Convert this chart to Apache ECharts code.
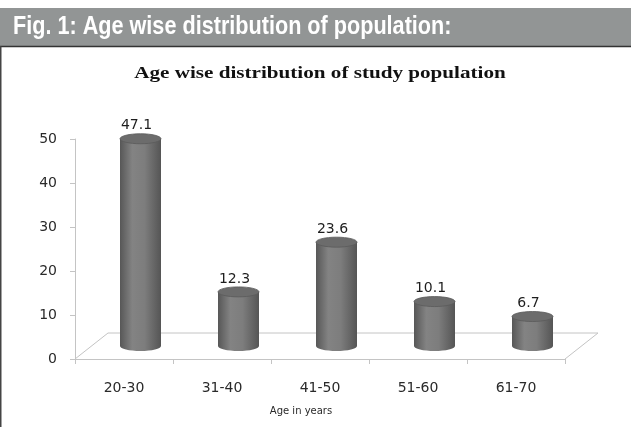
<!DOCTYPE html>
<html>
<head>
<meta charset="utf-8">
<script src="https://cdn.jsdelivr.net/npm/echarts@6/dist/echarts.min.js"></script>
<style>
  html, body { margin: 0; padding: 0; background: #ffffff; }
  #chart { width: 631px; height: 427px; }
</style>
</head>
<body>
<div id="chart"></div>
<script>
// Age groups and share of the study population (%)
const ageGroups = ['20-30', '31-40', '41-50', '51-60', '61-70'];
const populationShare = [47.1, 12.3, 23.6, 10.1, 6.7];
const yMin = 0, yMax = 50, yStep = 10;

const figureHeading = 'Fig. 1: Age wise distribution of population:';
const chartTitle = 'Age wise distribution of study population';
const xAxisTitle = 'Age in years';

// pseudo-3D depth of the floor and half-depth where the cylinders stand
const depth = [33, -26];
const half = [depth[0] / 2, depth[1] / 2];

const chart = echarts.init(document.getElementById('chart'), null, { renderer: 'canvas' });

const bodyFill = new echarts.graphic.LinearGradient(0, 0, 1, 0, [
  { offset: 0, color: '#575757' },
  { offset: 0.3, color: '#838383' },
  { offset: 0.6, color: '#7d7d7d' },
  { offset: 1, color: '#555555' }
]);

chart.setOption({
  backgroundColor: '#ffffff',
  animation: false,
  grid: { left: 75, right: 66, top: 139, bottom: 68 },
  xAxis: {
    type: 'category',
    data: ageGroups,
    boundaryGap: true,
    axisLine: { lineStyle: { color: '#c4c4c4', width: 1 } },
    axisTick: { show: true, length: 5, lineStyle: { color: '#c4c4c4' } },
    axisLabel: { margin: 22, color: '#2a2a2a', fontFamily: 'DejaVu Sans', fontSize: 14 }
  },
  yAxis: {
    type: 'value',
    min: yMin, max: yMax, interval: yStep,
    axisLine: { show: true, lineStyle: { color: '#c4c4c4', width: 1 } },
    axisTick: { show: true, length: 5, lineStyle: { color: '#c4c4c4' } },
    splitLine: { show: false },
    axisLabel: { margin: 18, color: '#2a2a2a', fontFamily: 'DejaVu Sans', fontSize: 14 }
  },
  graphic: [
    { type: 'rect', left: 0, top: 8, shape: { width: 631, height: 38 }, style: { fill: '#929595' }, z: 1 },
    { type: 'line', shape: { x1: 0, y1: 46.5, x2: 631, y2: 46.5 }, style: { stroke: '#333333', lineWidth: 1.5 }, z: 2 },
    { type: 'line', shape: { x1: 0.75, y1: 46, x2: 0.75, y2: 427 }, style: { stroke: '#444444', lineWidth: 1.5 }, z: 2 },
    {
      type: 'text', x: 13, y: 27, scaleX: 0.865, z: 3,
      style: { text: figureHeading, fill: '#ffffff', font: 'bold 25px "Liberation Sans", Arial, sans-serif', textAlign: 'left', textVerticalAlign: 'middle' }
    },
    {
      type: 'text', x: 320, y: 74, scaleX: 1.32, z: 3,
      style: { text: chartTitle, fill: '#111111', font: 'bold 16px "Liberation Serif", "Times New Roman", serif', textAlign: 'center', textVerticalAlign: 'middle' }
    },
    {
      type: 'text', x: 301, y: 411, z: 3,
      style: { text: xAxisTitle, fill: '#2a2a2a', font: '10px "DejaVu Sans", sans-serif', textAlign: 'center', textVerticalAlign: 'middle' }
    }
  ],
  series: [
    {
      // floor of the 3D plot area
      type: 'custom',
      silent: true,
      z: 1,
      data: [[0, 0]],
      renderItem: function (params, api) {
        const first = api.coord([0, 0]);
        const last = api.coord([ageGroups.length - 1, 0]);
        const band = api.size([1, 0])[0];
        const x0 = first[0] - band / 2, x1 = last[0] + band / 2, y0 = first[1];
        const style = { stroke: '#c4c4c4', lineWidth: 1, fill: null };
        return {
          type: 'group',
          children: [
            { type: 'polyline', shape: { points: [[x0, y0], [x0 + depth[0], y0 + depth[1]], [x1 + depth[0], y0 + depth[1]], [x1, y0]] }, style: style }
          ]
        };
      }
    },
    {
      // cylinders with value labels
      type: 'custom',
      z: 2,
      data: populationShare.map(function (v, i) { return [i, v]; }),
      renderItem: function (params, api) {
        const base = api.coord([api.value(0), 0]);
        const top = api.coord([api.value(0), api.value(1)]);
        const rx = 20.5, ry = 5;
        const cx = base[0] + half[0];
        const yb = base[1] + half[1];
        const yt = top[1] + half[1];
        return {
          type: 'group',
          children: [
            { type: 'ellipse', shape: { cx: cx, cy: yb, rx: rx, ry: ry }, style: { fill: bodyFill } },
            { type: 'rect', shape: { x: cx - rx, y: yt, width: rx * 2, height: yb - yt }, style: { fill: bodyFill } },
            { type: 'ellipse', shape: { cx: cx, cy: yt, rx: rx, ry: ry }, style: { fill: '#6c6c6c', stroke: '#5a5a5a', lineWidth: 0.8 } },
            {
              type: 'text', x: cx - 4, y: yt - ry - 1,
              style: { text: String(api.value(1)), fill: '#1e1e1e', font: '14px "DejaVu Sans", sans-serif', textAlign: 'center', textVerticalAlign: 'bottom' }
            }
          ]
        };
      }
    }
  ]
});
</script>
</body>
</html>
